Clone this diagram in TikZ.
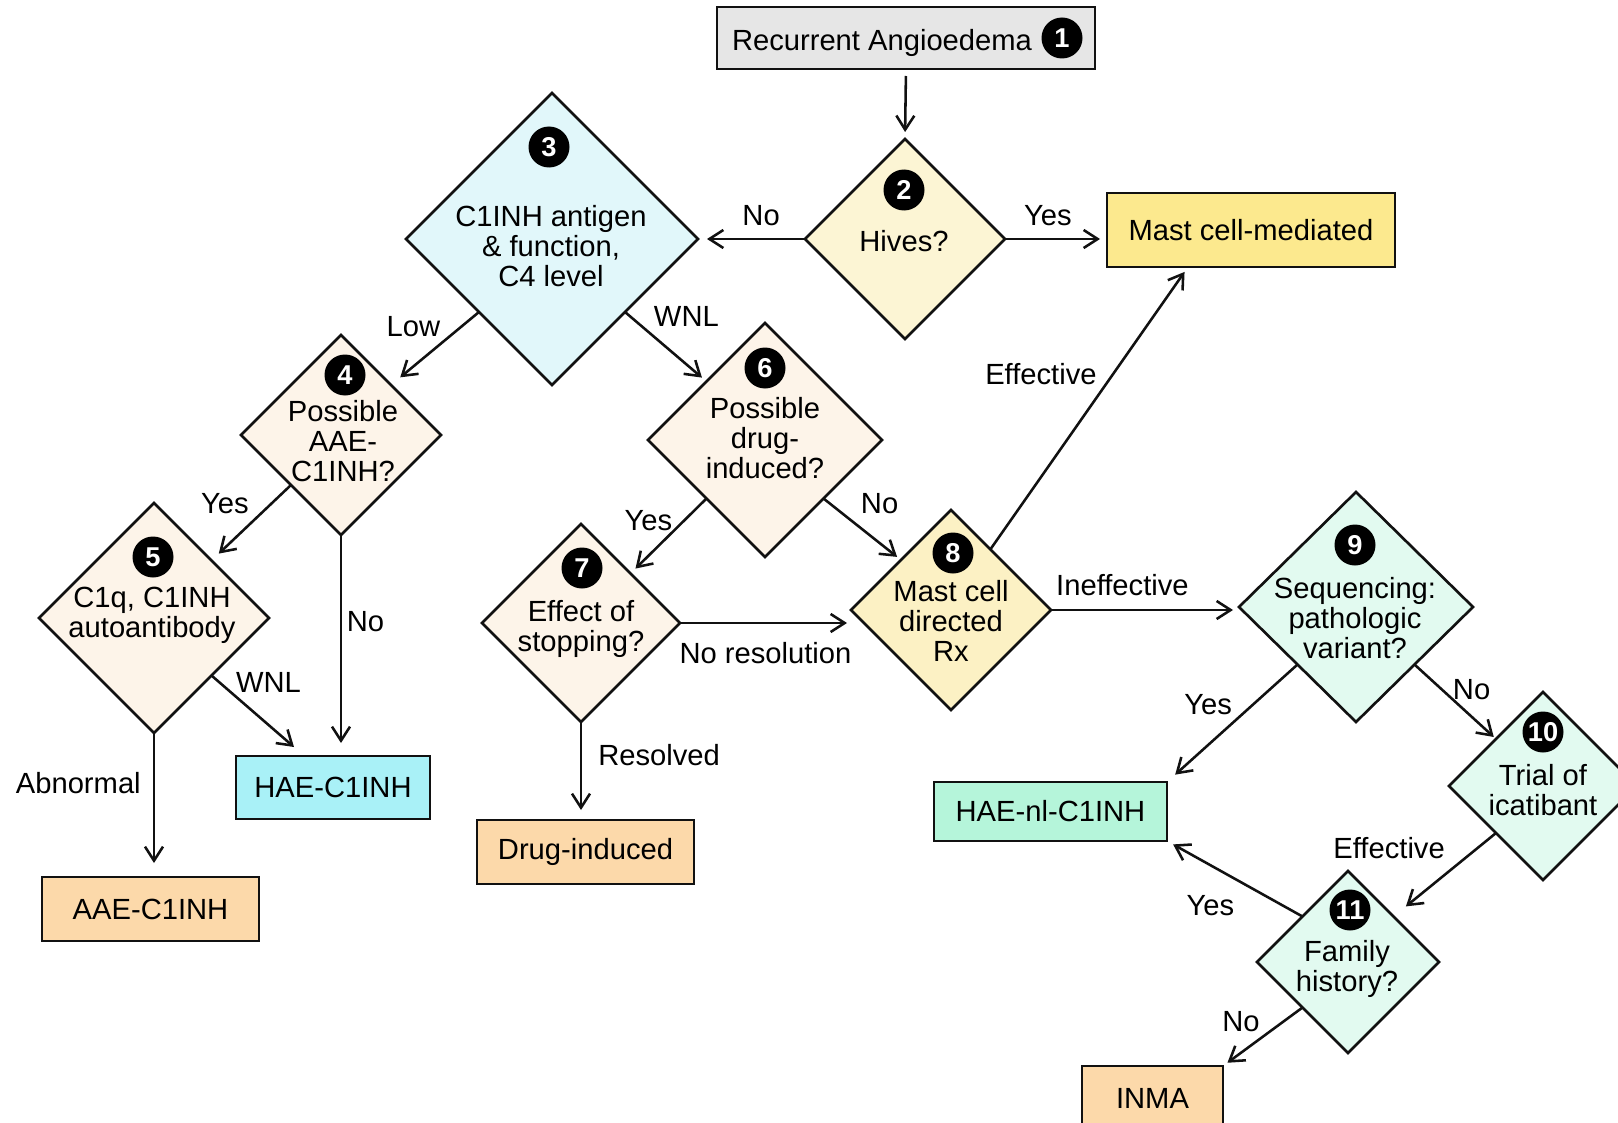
\documentclass[tikz,border=0pt]{standalone}
\usepackage{fontspec}
\setmainfont{Liberation Sans}
\usetikzlibrary{arrows.meta,positioning,shapes.geometric,calc}
\definecolor{cInk}{HTML}{111111}
\definecolor{cStart}{HTML}{E6E6E6}
\definecolor{cHive}{HTML}{FCF5D4}
\definecolor{cMast}{HTML}{FCE98E}
\definecolor{cAnti}{HTML}{E1F7FA}
\definecolor{cCream}{HTML}{FDF4E9}
\definecolor{cRx}{HTML}{FCF1C4}
\definecolor{cMint}{HTML}{E2FAF0}
\definecolor{cHae}{HTML}{A9F1F7}
\definecolor{cHnl}{HTML}{B5F5DA}
\definecolor{cPeach}{HTML}{FCD9AA}
\newcommand{\chartfont}{\fontsize{16.6}{17.1}\selectfont}
\newcommand{\numfont}{\fontsize{15.5}{16}\selectfont\bfseries}
\tikzset{
  base/.style     = {draw=cInk, line width=1.5pt, inner sep=0pt, outer sep=0pt},
  decision/.style = {base, diamond, aspect=1},
  endbox/.style   = {base, rectangle, font=\chartfont},
  num/.style      = {circle, fill=black, text=white, inner sep=0pt,
                     minimum size=8.2mm, font=\numfont},
  txt/.style      = {align=center, inner sep=0pt, font=\chartfont},
  lbl/.style      = {inner sep=0pt, font=\chartfont},
  flow/.style     = {-{Straight Barb[length=2.8mm, width=3.6mm]}, line width=1.45pt, draw=cInk},
}
\begin{document}
\begin{tikzpicture}[x=0.2mm, y=-0.2mm]
  \clip (0,0) rectangle (1618,1123);
  \fill[white] (0,0) rectangle (1618,1123);

  % start and first question
  \node[endbox, fill=cStart, minimum width=75.6mm, minimum height=12.4mm] (start) at (906,38) {};
  \node[txt] (t1) at (882,43) {Recurrent Angioedema};
  \node[num] (n1) at (1062,38) {1};
  \node[decision, fill=cHive, minimum width=40mm, minimum height=40mm] (hives) at (905,239) {};
  \node[num] (n2) at (904,190) {2};
  \node[txt] (t2) at (904,241) {Hives?};
  \node[endbox, fill=cMast, minimum width=57.6mm, minimum height=14.8mm] (mastcell) at (1251,230) {Mast cell-mediated};

  % C1INH branch
  \node[decision, fill=cAnti, minimum width=58.4mm, minimum height=58.4mm] (antigen) at (552,239) {};
  \node[num] (n3) at (549,147) {3};
  \node[txt] (t3) at (551,246) {C1INH antigen\\ \& function,\\ C4 level};
  \node[decision, fill=cCream, minimum width=40mm, minimum height=40mm] (acquired) at (341,435) {};
  \node[num] (n4) at (345,375) {4};
  \node[txt] (t4) at (343,441) {Possible\\ AAE-\\ C1INH?};
  \node[decision, fill=cCream, minimum width=46mm, minimum height=46mm] (autoab) at (154,618) {};
  \node[num] (n5) at (153,557) {5};
  \node[txt] (t5) at (152,615) {C1q, C1INH\\ autoantibody};
  \node[endbox, fill=cHae, minimum width=38.8mm, minimum height=12.6mm] (hae) at (333,787.5) {HAE-C1INH};
  \node[endbox, fill=cPeach, minimum width=43.4mm, minimum height=12.8mm] (aae) at (150.5,909) {AAE-C1INH};

  % drug branch
  \node[decision, fill=cCream, minimum width=46.8mm, minimum height=46.8mm] (druginq) at (765,440) {};
  \node[num] (n6) at (765,368) {6};
  \node[txt] (t6) at (765,438) {Possible\\ drug-\\ induced?};
  \node[decision, fill=cCream, minimum width=39.6mm, minimum height=39.6mm] (stopping) at (581,623) {};
  \node[num] (n7) at (582,568) {7};
  \node[txt] (t7) at (581,629) {Effect of\\ stopping?};
  \node[endbox, fill=cPeach, minimum width=43.4mm, minimum height=12.8mm] (drug) at (585.5,852) {Drug-induced};

  % mast cell treatment and genetics
  \node[decision, fill=cRx, minimum width=40mm, minimum height=40mm] (mcrx) at (951,610) {};
  \node[num] (n8) at (953,553) {8};
  \node[txt] (t8) at (951,621) {Mast cell\\ directed\\ Rx};
  \node[decision, fill=cMint, minimum width=46.8mm, minimum height=46mm] (seq) at (1356,607) {};
  \node[num] (n9) at (1355,545) {9};
  \node[txt] (t9) at (1355,618) {Sequencing:\\ pathologic\\ variant?};
  \node[decision, fill=cMint, minimum width=37.6mm, minimum height=37.6mm] (icat) at (1543,786) {};
  \node[num] (n10) at (1543,732) {10};
  \node[txt] (t10) at (1543,790) {Trial of\\ icatibant};
  \node[decision, fill=cMint, minimum width=36.4mm, minimum height=36.4mm] (family) at (1348,962) {};
  \node[num] (n11) at (1350,910) {11};
  \node[txt] (t11) at (1347,969) {Family\\ history?};
  \node[endbox, fill=cHnl, minimum width=46.6mm, minimum height=11.8mm] (haenl) at (1050.5,811.5) {HAE-nl-C1INH};
  \node[endbox, fill=cPeach, minimum width=28.2mm, minimum height=12.8mm] (inma) at (1152.5,1098) {INMA};

  % connectors
  \draw[flow, shorten <=1.4mm, shorten >=1.4mm] (start.south) -- (hives.north);
  \draw[flow, shorten >=1.8mm] (hives.west) -- node[lbl, pos=.41, above=2.3mm] (lNoHives) {No} (hives.west -| antigen.east);
  \draw[flow, shorten >=1.4mm] (hives.east) -- node[lbl, pos=.42, above=2.3mm] (lYesHives) {Yes} (hives.east -| mastcell.west);
  \draw[flow, shorten >=2.4mm] (antigen.south west) -- node[lbl, pos=.2, left=4mm] (lLow) {Low} (acquired.north east);
  \draw[flow, shorten >=1.2mm] (antigen.south east) -- node[lbl, pos=.07, right=4.4mm] (lWnlAnti) {WNL} (druginq.north west);
  \draw[flow, shorten >=2mm] (acquired.south west) -- node[lbl, pos=.24, left=4.4mm] (lYesAcq) {Yes} (autoab.north east);
  \draw[flow, shorten >=2.6mm] (acquired.south) -- node[lbl, pos=.39, right=0.9mm] (lNoAcq) {No} (acquired.south |- hae.north);
  \draw[flow] (autoab.south east) -- node[lbl, pos=.1, right=3mm] (lWnlAuto) {WNL} ($(hae.north west)+(58,-9)$);
  \draw[flow, shorten >=2.8mm] (autoab.south) -- node[lbl, pos=.35, left=2.4mm] (lAbn) {Abnormal} (autoab.south |- aae.north);
  \draw[flow, shorten >=1.4mm] (druginq.south west) -- node[lbl, pos=.29, left=2.2mm] (lYesDrug) {Yes} (stopping.north east);
  \draw[flow, shorten >=1mm] (druginq.south east) -- node[lbl, pos=.08, right=6mm] (lNoDrug) {No} (mcrx.north west);
  \draw[flow, shorten >=0.8mm] (stopping.east) -- node[lbl, pos=.5, below=3.6mm] (lNoRes) {No resolution} (stopping.east -| mcrx.west);
  \draw[flow, shorten >=2mm] (stopping.south) -- node[lbl, pos=.34, right=3.2mm] (lRes) {Resolved} (stopping.south |- drug.north);
  \draw[flow, shorten >=1.2mm] (mcrx.57) -- node[lbl, pos=.62, left=3mm] (lEffRx) {Effective} ($(mastcell.south)+(-63,0)$);
  \draw[flow, shorten >=1.2mm] (mcrx.east) -- node[lbl, pos=.38, above=2.5mm] (lIneff) {Ineffective} (mcrx.east -| seq.west);
  \draw[flow, shorten >=2.2mm] (seq.south west) -- node[lbl, pos=.34, left=4mm] (lYesSeq) {Yes} (haenl.north east);
  \draw[flow, shorten >=0.6mm] (seq.south east) -- node[lbl, pos=.34, right=1.9mm] (lNoSeq) {No} (icat.north west);
  \draw[flow, shorten >=3.2mm] (icat.south west) -- node[lbl, pos=.18, left=6.3mm] (lEffIcat) {Effective} (family.north east);
  \draw[flow, shorten >=1.4mm] (family.north west) -- node[lbl, pos=.14, left=9.6mm] (lYesFam) {Yes} (haenl.south east);
  \draw[flow, shorten >=1.1mm] (family.south west) -- node[lbl, pos=.24, left=4.5mm] (lNoFam) {No} (inma.north east);
\end{tikzpicture}
\end{document}
